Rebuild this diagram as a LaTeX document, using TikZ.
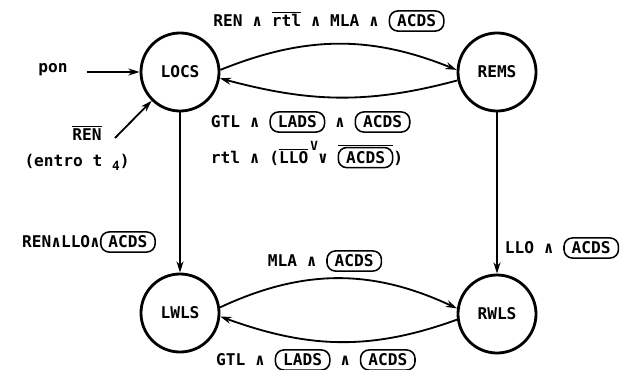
\documentclass[tikz,border=0pt]{standalone}
\usepackage{fontspec}
\newfontfamily\labelfont{DejaVu Sans Mono}
\usetikzlibrary{arrows.meta}

\tikzset{
  state/.style={circle, draw, line width=2pt, minimum size=1.95cm, inner sep=0pt},
  pill/.style={draw, line width=1.1pt, rounded corners=6pt, inner xsep=5.5pt, inner ysep=2.8pt},
  arr/.style={line width=1.3pt, -{Stealth[length=8pt,width=5pt]}}
}
\newcommand{\sig}[1]{\tikz[baseline=(sg.base)]\node[pill](sg){#1};}
\newcommand{\ovl}[1]{$\overline{\hbox{#1}}$}

\begin{document}
\begin{tikzpicture}[x=0.025cm, y=0.025cm, font=\labelfont\bfseries\fontsize{11.5}{13}\selectfont]
\useasboundingbox (0,0) rectangle (623,369);

\node[state] (locs) at (180,297) {LOCS};
\node[state] (rems) at (497,297) {REMS};
\node[state] (lwls) at (180,56) {LWLS};
\node[state] (rwls) at (497,55) {RWLS};

\node (pon) at (53,299) {pon};
\node (ren) at (87,236) {\ovl{REN}};
\node (entro) at (77,207) {(entro t \raisebox{-3pt}{\small 4})};
\coordinate (ponend) at (87,297);
\coordinate (renend) at (115,231);

\draw[arr] (ponend) -- (locs);
\draw[arr] (renend) -- (locs);
\draw[arr] (locs.3) to[out=22,in=158] (rems.177);
\draw[arr] (rems.192) to[out=195,in=-15] (locs.351);
\draw[arr] (locs) -- (lwls);
\draw[arr] (rems) -- (rwls);
\draw[arr] (lwls.8) to[out=25,in=155] (rwls.172);
\draw[arr] (rwls.188) to[out=200,in=-20] (lwls.355);

\node (lbltop) at (329,348) {REN ∧ \ovl{rtl} ∧ MLA ∧ \sig{ACDS}};
\node[anchor=west] (lblback) at (206,247) {GTL ∧ \sig{LADS} ∧ \sig{ACDS}};
\node[anchor=west] (lblrtl) at (206,214) {rtl ∧ (\ovl{LLO}\rlap{\raisebox{9pt}{\small\,V}} ∨ \ovl{\sig{ACDS}})};
\node (lbldown) at (89,127) {REN∧LLO∧\sig{ACDS}};
\node (lblright) at (562,121) {LLO ∧ \sig{ACDS}};
\node (lblfwd) at (325,108) {MLA ∧ \sig{ACDS}};
\node (lblret) at (316,9) {GTL ∧ \sig{LADS} ∧ \sig{ACDS}};
\end{tikzpicture}
\end{document}
